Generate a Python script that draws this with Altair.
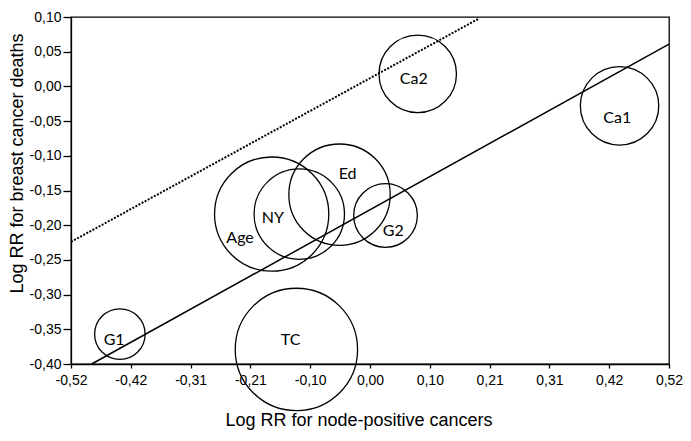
import altair as alt
import pandas as pd

# ---- data ----
studies = ["Ca2", "Ca1", "Ed", "NY", "Age", "G2", "G1", "TC"]
log_rr_node_pos = [0.083, 0.434, -0.053, -0.123, -0.171, 0.027, -0.435, -0.128]
log_rr_deaths = [0.018, -0.028, -0.156, -0.184, -0.184, -0.186, -0.357, -0.379]
weights = [16.0, 16.4, 27.4, 21.8, 34.8, 10.8, 6.8, 39.9]
label_x = [0.076, 0.430, -0.039, -0.169, -0.226, 0.0405, -0.445, -0.138]
label_y = [0.010, -0.046, -0.126, -0.189, -0.219, -0.208, -0.366, -0.366]

fit_x = [-0.484, 0.52]
fit_y = [-0.40, 0.061]
ref_x = [-0.52, 0.19]
ref_y = [-0.224, 0.098]

x_ticks = [-0.52, -0.416, -0.312, -0.208, -0.104, 0.0, 0.104, 0.208, 0.312, 0.416, 0.52]
y_ticks = [0.10, 0.05, 0.0, -0.05, -0.10, -0.15, -0.20, -0.25, -0.30, -0.35, -0.40]

bubbles = pd.DataFrame({"study": studies, "x": log_rr_node_pos, "y": log_rr_deaths, "w": weights})
labels = pd.DataFrame({"study": studies, "x": label_x, "y": label_y})
fit = pd.DataFrame({"x": fit_x, "y": fit_y})
ref = pd.DataFrame({"x": ref_x, "y": ref_y})

lab_expr = "replace(replace(format(datum.value, '.2f'), '.', ','), '\u2212', '-')"

xscale = alt.Scale(domain=[-0.52, 0.52], nice=False, zero=False)
yscale = alt.Scale(domain=[-0.40, 0.10], nice=False, zero=False)

xaxis = alt.Axis(values=x_ticks, labelExpr=lab_expr, title="Log RR for node-positive cancers",
                 tickSize=4, labelPadding=5, titleX=287.5, titleY=61,
                 titleBaseline="alphabetic", labelFlush=False, labelOverlap=False)
yaxis = alt.Axis(values=y_ticks, labelExpr=lab_expr, title="Log RR for breast cancer deaths",
                 tickSize=8, labelPadding=2, titlePadding=3, titleY=146,
                 labelOverlap=False, labelFlush=False)


def X():
    return alt.X("x:Q", scale=xscale, axis=xaxis)


def Y():
    return alt.Y("y:Q", scale=yscale, axis=yaxis)


circles = alt.Chart(bubbles).mark_point(shape="circle", filled=False, color="black",
                                         strokeWidth=1.3, opacity=1).encode(
    x=X(),
    y=Y(),
    size=alt.Size("w:Q", scale=alt.Scale(domain=[0, 40], range=[0, 15000]), legend=None),
)

texts = alt.Chart(labels).mark_text(font="Lato", fontSize=16, color="black",
                                    align="center", baseline="middle").encode(
    x=X(), y=Y(), text="study:N",
)

fit_line = alt.Chart(fit).mark_line(color="black", strokeWidth=1.5).encode(x=X(), y=Y())
ref_line = alt.Chart(ref).mark_line(color="black", strokeWidth=2, strokeDash=[2, 1.5]).encode(
    x=X(), y=Y()
)

chart = alt.layer(circles, fit_line, ref_line, texts).properties(
    width=598, height=347,
    autosize=alt.AutoSizeParams(type="none"),
    padding={"left": 63, "top": 9, "right": 14, "bottom": 69},
    background="white",
).configure_view(
    stroke="black", strokeWidth=1.3
).configure_axis(
    grid=False, domainColor="black", domainWidth=1.3, tickColor="black", tickWidth=1.3,
    labelColor="black", titleColor="black",
    labelFont="Liberation Sans", titleFont="Liberation Sans",
    labelFontSize=14, titleFontSize=18, titleFontWeight="normal",
    labelOverlap=False,
)

chart.save("out.html", embed_options={"renderer": "svg", "actions": False})
